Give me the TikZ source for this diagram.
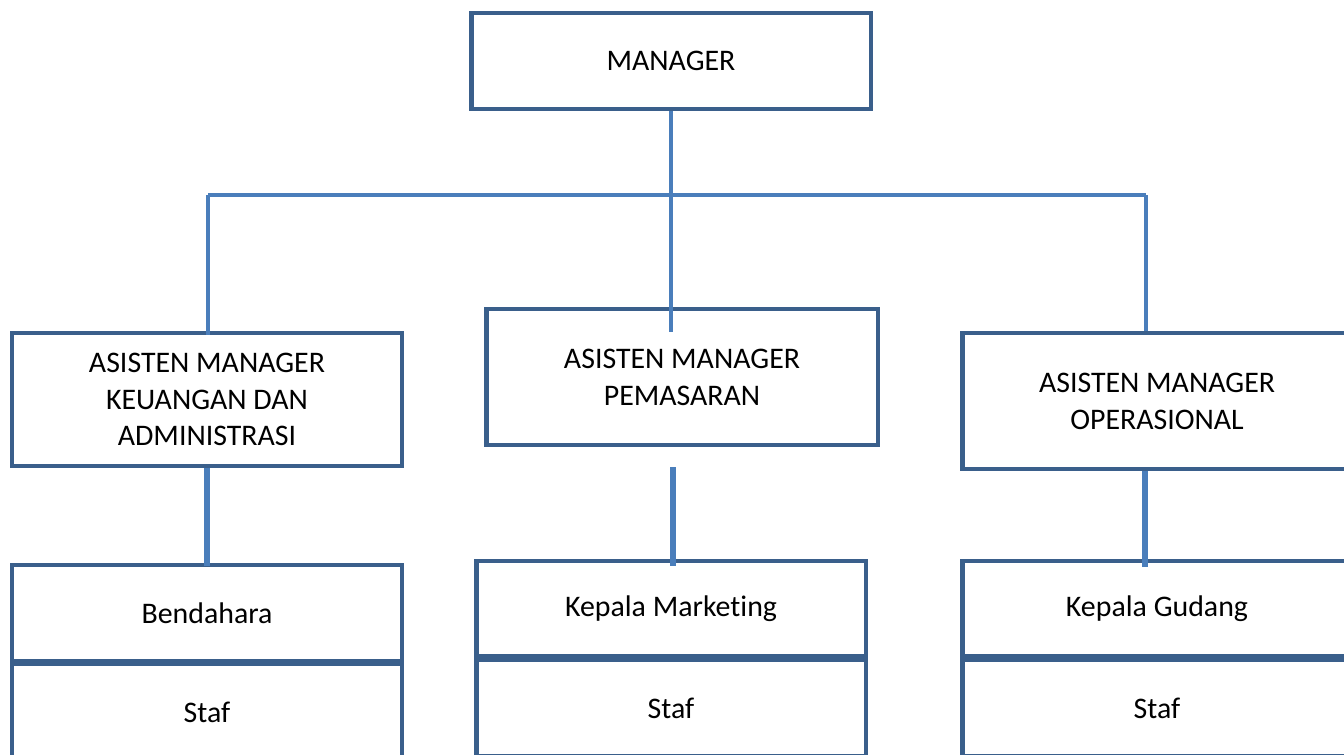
\documentclass[tikz,border=0pt]{standalone}
\usepackage{fontspec}
\setmainfont{Carlito}[Ligatures=NoCommon]
\usetikzlibrary{calc}
\definecolor{boxblue}{RGB}{58,95,139}
\definecolor{lineblue}{RGB}{74,126,187}
\tikzset{
  unit/.style={draw=boxblue,line width=2.8pt,fill=white,align=center,
    font=\fontsize{17}{21}\selectfont,inner sep=0pt},
  trunk/.style={draw=lineblue,line width=2.8pt},
  bus/.style={draw=lineblue,line width=2pt}
}
\begin{document}
\begin{tikzpicture}[x=0.02cm,y=-0.02cm]
  \useasboundingbox (0,0) rectangle (1344,754);
  % top
  \node[unit,minimum width=8cm,minimum height=1.92cm] (mgr) at (671,61) {MANAGER};
  % assistants
  \node[unit,minimum width=7.8cm,minimum height=2.66cm] (am1) at (207,399.5)
    {ASISTEN MANAGER\\KEUANGAN DAN\\ADMINISTRASI};
  \node[unit,minimum width=7.84cm,minimum height=2.72cm] (am2) at (682,377)
    {ASISTEN MANAGER\\PEMASARAN};
  \node[unit,minimum width=7.8cm,minimum height=2.72cm] (am3) at (1157,401)
    {ASISTEN MANAGER\\OPERASIONAL};
  % heads and staff
  \node[unit,minimum width=7.8cm,minimum height=1.92cm] (bend) at (207,613) {Bendahara};
  \node[unit,minimum width=7.8cm,minimum height=1.92cm] (staf1) at (207,712) {Staf};
  \node[unit,minimum width=7.8cm,minimum height=1.9cm] (kmkt) at (671,608.5) {Kepala Marketing};
  \node[unit,minimum width=7.8cm,minimum height=1.92cm] (staf2) at (671,708) {Staf};
  \node[unit,minimum width=7.8cm,minimum height=1.9cm] (kgud) at (1157,608.5) {Kepala Gudang};
  \node[unit,minimum width=7.8cm,minimum height=1.92cm] (staf3) at (1157,708) {Staf};
  % connectors
  \coordinate (busL) at (208,195);
  \coordinate (busR) at (1146,195);
  \coordinate (gapM) at (673,467);
  \draw[trunk] (mgr.south) -- ($(mgr.south |- am2.north)+(0,25)$);
  \draw[bus] (busL) -- (busR);
  \draw[bus] (busL) -- ($(busL |- am1.north)+(0,4)$);
  \draw[bus] (busR) -- (busR |- am3.north);
  \draw[trunk,line width=3.4pt] (am1.south) -- ($(bend.north)+(0,3)$);
  \draw[trunk,line width=3.4pt] (gapM) -- ($(gapM |- kmkt.north)+(0,7)$);
  \draw[trunk,line width=3.4pt] ($(am3.south)+(-12,0)$) -- ($(kgud.north)+(-12,8)$);
\end{tikzpicture}
\end{document}
